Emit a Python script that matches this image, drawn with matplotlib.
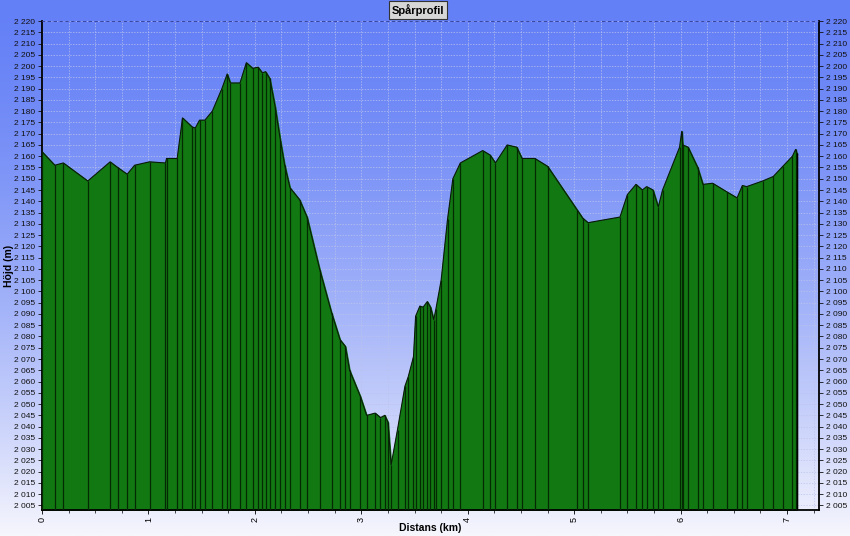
import numpy as np
import matplotlib.pyplot as plt
from matplotlib.ticker import FuncFormatter, MultipleLocator

plt.rcParams['font.family'] = ['Liberation Sans', 'DejaVu Sans']

# track profile: distance (km) and height (m)
dist = [0.00, 0.12, 0.20, 0.43, 0.64, 0.71, 0.80, 0.87, 1.01, 1.16, 1.17, 1.27,
        1.32, 1.41, 1.44, 1.48, 1.53, 1.60, 1.69, 1.74, 1.77, 1.86, 1.92, 1.98,
        2.03, 2.07, 2.10, 2.14, 2.19, 2.24, 2.28, 2.33, 2.42, 2.49, 2.61, 2.72,
        2.80, 2.85, 2.89, 2.99, 3.05, 3.13, 3.18, 3.22, 3.25, 3.28, 3.34, 3.41,
        3.44, 3.49, 3.51, 3.55, 3.58, 3.62, 3.65, 3.68, 3.70, 3.75, 3.81, 3.86,
        3.93, 4.14, 4.21, 4.26, 4.37, 4.46, 4.51, 4.63, 4.75, 5.03, 5.08, 5.13,
        5.43, 5.50, 5.58, 5.64, 5.68, 5.74, 5.79, 5.83, 5.99, 6.01, 6.02, 6.07,
        6.16, 6.21, 6.30, 6.44, 6.53, 6.58, 6.62, 6.77, 6.87, 6.96, 7.05, 7.08,
        7.09]
height = [2162, 2156, 2157, 2149, 2157.5, 2155, 2152, 2156, 2157.5, 2157, 2159, 2159,
          2177, 2173, 2172.5, 2176, 2176, 2180, 2190, 2196.5, 2192.5, 2192.5, 2201.5, 2199,
          2199.5, 2197, 2197.5, 2194.5, 2182, 2167, 2156, 2146, 2140.7, 2133, 2109.6, 2090.6,
          2078.6, 2075.6, 2065, 2053.5, 2045, 2046, 2044, 2045, 2042, 2023, 2038.7, 2058,
          2062, 2071, 2089, 2093.5, 2093, 2095.5, 2093, 2087.5, 2092, 2105, 2132, 2150,
          2157, 2162.5, 2160.5, 2157, 2165, 2164, 2159, 2159, 2155.5, 2136, 2132.5, 2130.5,
          2133, 2143, 2147.5, 2145, 2146.5, 2145, 2137.5, 2145, 2164, 2171, 2165, 2164,
          2155, 2147.5, 2148, 2144, 2141.5, 2147, 2146.5, 2149, 2151, 2155.5, 2160, 2163,
          2161.5]

ymin, ymax = 2003, 2220
xmax = 7.30

fig = plt.figure(figsize=(8.5, 5.36), dpi=100)

# background gradient blue -> white over the whole figure
bg = fig.add_axes([0, 0, 1, 1], zorder=-1)
t = np.linspace(0, 1, 400) ** 1.5
top = np.array([100, 128, 246]) / 255
bot = np.array([246, 246, 253]) / 255
grad = top[None, :] * (1 - t[:, None]) + bot[None, :] * t[:, None]
bg.imshow(grad[:, None, :], aspect='auto', extent=[0, 1, 0, 1])
bg.axis('off')

ax = fig.add_axes([42 / 850, 1 - 510 / 536, (819 - 42) / 850, (510 - 21) / 536])
ax.patch.set_alpha(0)

ax.fill_between(dist, height, ymin, color='#127812', zorder=2)
ax.vlines(dist, ymin, height, color='#042a04', lw=0.9, zorder=3)
ax.plot(dist, height, color='#0a1a0a', lw=0.8, zorder=4)
ax.vlines(dist[-1], ymin, height[-1], color='black', lw=1.0, zorder=4)

ax.set_xlim(0, xmax)
ax.set_ylim(ymin, ymax)

ax.yaxis.set_major_locator(MultipleLocator(5))
ax.yaxis.set_major_formatter(FuncFormatter(lambda v, p: f"{int(v):,}".replace(",", " ")))
ax.xaxis.set_major_locator(MultipleLocator(1))
ax.xaxis.set_minor_locator(MultipleLocator(0.25))

ax.grid(True, axis='y', which='major', color='#bcc4ec', ls=(0, (2, 2)), lw=0.5, zorder=1)
ax.grid(True, axis='x', which='both', color='#bcc4ec', ls=(0, (2, 2)), lw=0.5, zorder=1)
ax.axhline(ymax, color='#2a3a90', ls=(0, (2, 1.5)), lw=1.2, zorder=5)

ax.tick_params(axis='y', labelsize=6, length=3, width=0.6, right=True, labelright=True,
               pad=2, colors='#111111')
ax.tick_params(axis='x', labelsize=6.5, length=3, width=0.6, labelrotation=90, pad=2)
ax.tick_params(axis='x', which='minor', length=2, width=0.5)

for s in ['left', 'right', 'bottom']:
    ax.spines[s].set_color('black')
    ax.spines[s].set_linewidth(1.3)
ax.spines['top'].set_visible(False)

ax.set_xlabel('Distans (km)', fontsize=7.5, fontweight='bold', labelpad=1)
ax.set_ylabel('Höjd (m)', fontsize=7.5, fontweight='bold')
ax.yaxis.set_label_coords(-0.036, 0.5)

fig.text(418 / 850, 1 - 10 / 536, 'Spårprofil', ha='center', va='center',
         fontsize=8, fontweight='bold',
         bbox=dict(boxstyle='square,pad=0.25', facecolor='#d6d6d6', edgecolor='#333333', lw=0.8))

fig.savefig('out.png', dpi=100)
